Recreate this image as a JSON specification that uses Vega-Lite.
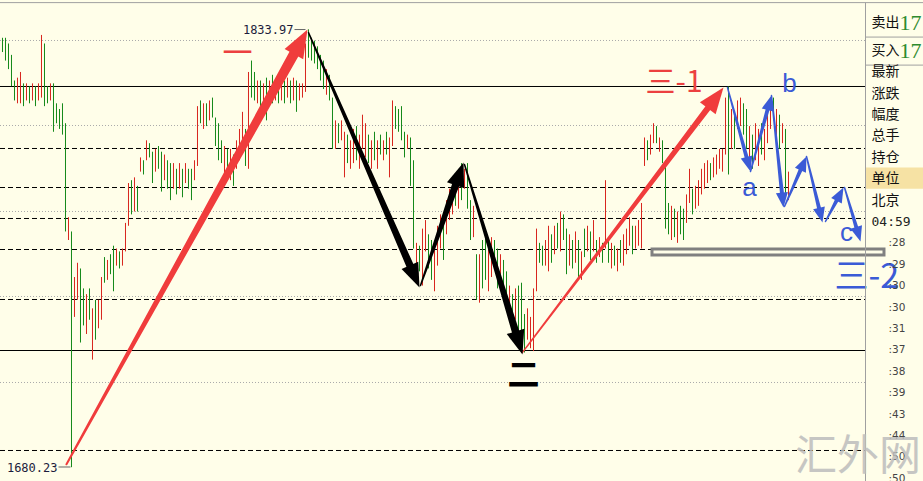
{
"$schema":"https://vega.github.io/schema/vega-lite/v6.json",
"width":923,"height":481,"autosize":"none","padding":0,
"background":"#FFFEE9",
"config":{"view":{"stroke":null}},
"datasets":{
"bars":[
{"i":0,"h":1831,"l":1826,"d":"d"},{"i":1,"h":1831,"l":1823,"d":"d"},{"i":2,"h":1829,"l":1820,"d":"d"},{"i":3,"h":1825,"l":1814,"d":"d"},{"i":4,"h":1816,"l":1809,"d":"d"},{"i":5,"h":1817,"l":1808,"d":"u"},{"i":6,"h":1819,"l":1808,"d":"u"},{"i":7,"h":1815,"l":1807,"d":"d"},{"i":8,"h":1815,"l":1809,"d":"u"},{"i":9,"h":1814,"l":1808,"d":"d"},
{"i":10,"h":1815,"l":1809,"d":"u"},{"i":11,"h":1814,"l":1807,"d":"d"},{"i":12,"h":1815,"l":1809,"d":"u"},{"i":13,"h":1832,"l":1810,"d":"u"},{"i":14,"h":1829,"l":1807,"d":"d"},{"i":15,"h":1814,"l":1808,"d":"d"},{"i":16,"h":1815,"l":1809,"d":"u"},{"i":17,"h":1815,"l":1798,"d":"d"},{"i":18,"h":1808,"l":1801,"d":"d"},{"i":19,"h":1806,"l":1799,"d":"d"},
{"i":20,"h":1808,"l":1797,"d":"d"},{"i":21,"h":1801,"l":1763,"d":"d"},{"i":22,"h":1768,"l":1760,"d":"u"},{"i":23,"h":1763,"l":1680.23,"d":"d"},{"i":24,"h":1747,"l":1733,"d":"u"},{"i":25,"h":1752,"l":1739,"d":"u"},{"i":26,"h":1750,"l":1724,"d":"d"},{"i":27,"h":1743,"l":1730,"d":"d"},{"i":28,"h":1741,"l":1727,"d":"u"},{"i":29,"h":1743,"l":1732,"d":"d"},
{"i":30,"h":1736,"l":1718,"d":"u"},{"i":31,"h":1739,"l":1725,"d":"d"},{"i":32,"h":1739,"l":1729,"d":"u"},{"i":33,"h":1747,"l":1732,"d":"u"},{"i":34,"h":1754,"l":1745,"d":"d"},{"i":35,"h":1753,"l":1746,"d":"u"},{"i":36,"h":1755,"l":1748,"d":"d"},{"i":37,"h":1758,"l":1742,"d":"d"},{"i":38,"h":1757,"l":1751,"d":"u"},{"i":39,"h":1756,"l":1750,"d":"d"},
{"i":40,"h":1757,"l":1751,"d":"u"},{"i":41,"h":1766,"l":1756,"d":"u"},{"i":42,"h":1780,"l":1765,"d":"u"},{"i":43,"h":1781,"l":1769,"d":"d"},{"i":44,"h":1782,"l":1770,"d":"u"},{"i":45,"h":1779,"l":1770,"d":"d"},{"i":46,"h":1789,"l":1784,"d":"u"},{"i":47,"h":1788,"l":1783,"d":"d"},{"i":48,"h":1795,"l":1788,"d":"u"},{"i":49,"h":1794,"l":1789,"d":"d"},
{"i":50,"h":1791,"l":1780,"d":"d"},{"i":51,"h":1792,"l":1784,"d":"u"},{"i":52,"h":1793,"l":1785,"d":"d"},{"i":53,"h":1791,"l":1777,"d":"d"},{"i":54,"h":1790,"l":1781,"d":"u"},{"i":55,"h":1788,"l":1778,"d":"d"},{"i":56,"h":1787,"l":1774,"d":"d"},{"i":57,"h":1787,"l":1778,"d":"u"},{"i":58,"h":1785,"l":1776,"d":"d"},{"i":59,"h":1787,"l":1778,"d":"u"},
{"i":60,"h":1785,"l":1775,"d":"d"},{"i":61,"h":1787,"l":1780,"d":"u"},{"i":62,"h":1785,"l":1778,"d":"d"},{"i":63,"h":1785,"l":1774,"d":"d"},{"i":64,"h":1788,"l":1781,"d":"u"},{"i":65,"h":1807,"l":1786,"d":"u"},{"i":66,"h":1809,"l":1801,"d":"d"},{"i":67,"h":1808,"l":1799,"d":"u"},{"i":68,"h":1808,"l":1800,"d":"d"},{"i":69,"h":1809,"l":1802,"d":"u"},
{"i":70,"h":1810,"l":1803,"d":"d"},{"i":71,"h":1803,"l":1793,"d":"d"},{"i":72,"h":1801,"l":1788,"d":"d"},{"i":73,"h":1795,"l":1787,"d":"d"},{"i":74,"h":1793,"l":1781,"d":"u"},{"i":75,"h":1792,"l":1783,"d":"d"},{"i":76,"h":1792,"l":1781,"d":"u"},{"i":77,"h":1790,"l":1779,"d":"d"},{"i":78,"h":1795,"l":1785,"d":"u"},{"i":79,"h":1799,"l":1788,"d":"u"},
{"i":80,"h":1805,"l":1793,"d":"u"},{"i":81,"h":1799,"l":1786,"d":"d"},{"i":82,"h":1819,"l":1785,"d":"u"},{"i":83,"h":1823,"l":1810,"d":"d"},{"i":84,"h":1819,"l":1809,"d":"d"},{"i":85,"h":1816,"l":1808,"d":"u"},{"i":86,"h":1816,"l":1806,"d":"d"},{"i":87,"h":1815,"l":1805,"d":"u"},{"i":88,"h":1817,"l":1802,"d":"d"},{"i":89,"h":1816,"l":1809,"d":"u"},
{"i":90,"h":1818,"l":1808,"d":"d"},{"i":91,"h":1816,"l":1809,"d":"u"},{"i":92,"h":1816,"l":1808,"d":"d"},{"i":93,"h":1817,"l":1809,"d":"u"},{"i":94,"h":1816,"l":1808,"d":"d"},{"i":95,"h":1817,"l":1810,"d":"u"},{"i":96,"h":1816,"l":1808,"d":"d"},{"i":97,"h":1817,"l":1809,"d":"u"},{"i":98,"h":1816,"l":1805,"d":"d"},{"i":99,"h":1815,"l":1809,"d":"u"},
{"i":100,"h":1815,"l":1810,"d":"u"},{"i":101,"h":1829,"l":1812,"d":"u"},{"i":102,"h":1833.97,"l":1824,"d":"d"},{"i":103,"h":1831,"l":1823,"d":"d"},{"i":104,"h":1830,"l":1822,"d":"d"},{"i":105,"h":1828,"l":1820,"d":"d"},{"i":106,"h":1825,"l":1816,"d":"d"},{"i":107,"h":1823,"l":1813,"d":"d"},{"i":108,"h":1820,"l":1811,"d":"u"},{"i":109,"h":1818,"l":1809,"d":"d"},
{"i":110,"h":1810,"l":1792,"d":"d"},{"i":111,"h":1802,"l":1792,"d":"u"},{"i":112,"h":1801,"l":1794,"d":"d"},{"i":113,"h":1802,"l":1795,"d":"u"},{"i":114,"h":1798,"l":1782,"d":"u"},{"i":115,"h":1797,"l":1787,"d":"d"},{"i":116,"h":1795,"l":1785,"d":"u"},{"i":117,"h":1799,"l":1787,"d":"u"},{"i":118,"h":1800,"l":1788,"d":"d"},{"i":119,"h":1797,"l":1785,"d":"u"},
{"i":120,"h":1804,"l":1792,"d":"u"},{"i":121,"h":1801,"l":1789,"d":"u"},{"i":122,"h":1797,"l":1787,"d":"d"},{"i":123,"h":1795,"l":1785,"d":"u"},{"i":124,"h":1798,"l":1788,"d":"d"},{"i":125,"h":1795,"l":1785,"d":"u"},{"i":126,"h":1797,"l":1790,"d":"d"},{"i":127,"h":1795,"l":1788,"d":"u"},{"i":128,"h":1798,"l":1790,"d":"d"},{"i":129,"h":1796,"l":1782,"d":"u"},
{"i":130,"h":1809,"l":1793,"d":"u"},{"i":131,"h":1807,"l":1799,"d":"d"},{"i":132,"h":1806,"l":1798,"d":"d"},{"i":133,"h":1807,"l":1795,"d":"d"},{"i":134,"h":1798,"l":1789,"d":"d"},{"i":135,"h":1797,"l":1792,"d":"u"},{"i":136,"h":1796,"l":1779,"d":"d"},{"i":137,"h":1788,"l":1757,"d":"d"},{"i":138,"h":1759,"l":1747,"d":"u"},{"i":139,"h":1758,"l":1749,"d":"d"},
{"i":140,"h":1764,"l":1744,"d":"u"},{"i":141,"h":1767,"l":1756,"d":"u"},{"i":142,"h":1762,"l":1750,"d":"d"},{"i":143,"h":1760,"l":1746,"d":"d"},{"i":144,"h":1757,"l":1742,"d":"u"},{"i":145,"h":1765,"l":1751,"d":"u"},{"i":146,"h":1769,"l":1757,"d":"u"},{"i":147,"h":1767,"l":1753,"d":"d"},{"i":148,"h":1774,"l":1762,"d":"u"},{"i":149,"h":1778,"l":1767,"d":"u"},
{"i":150,"h":1781,"l":1769,"d":"u"},{"i":151,"h":1779,"l":1772,"d":"d"},{"i":152,"h":1783,"l":1771,"d":"u"},{"i":153,"h":1787,"l":1774,"d":"d"},{"i":154,"h":1785,"l":1778,"d":"u"},{"i":155,"h":1787,"l":1771,"d":"d"},{"i":156,"h":1774,"l":1760,"d":"d"},{"i":157,"h":1772,"l":1761,"d":"u"},{"i":158,"h":1755,"l":1739,"d":"d"},{"i":159,"h":1755,"l":1738,"d":"u"},
{"i":160,"h":1760,"l":1743,"d":"d"},{"i":161,"h":1764,"l":1746,"d":"d"},{"i":162,"h":1758,"l":1742,"d":"u"},{"i":163,"h":1761,"l":1747,"d":"u"},{"i":164,"h":1760,"l":1751,"d":"d"},{"i":165,"h":1757,"l":1743,"d":"d"},{"i":166,"h":1755,"l":1744,"d":"u"},{"i":167,"h":1753,"l":1743,"d":"d"},{"i":168,"h":1749,"l":1739,"d":"d"},{"i":169,"h":1744,"l":1732,"d":"u"},
{"i":170,"h":1741,"l":1730,"d":"d"},{"i":171,"h":1743,"l":1732,"d":"u"},{"i":172,"h":1744,"l":1728,"d":"d"},{"i":173,"h":1745,"l":1723,"d":"d"},{"i":174,"h":1734,"l":1720.5,"d":"d"},{"i":175,"h":1736,"l":1725,"d":"u"},{"i":176,"h":1733,"l":1722,"d":"u"},{"i":177,"h":1743,"l":1721,"d":"u"},{"i":178,"h":1764,"l":1742,"d":"u"},{"i":179,"h":1759,"l":1752,"d":"d"},
{"i":180,"h":1758,"l":1751,"d":"d"},{"i":181,"h":1760,"l":1751,"d":"u"},{"i":182,"h":1765,"l":1749,"d":"u"},{"i":183,"h":1762,"l":1752,"d":"d"},{"i":184,"h":1765,"l":1755,"d":"u"},{"i":185,"h":1766,"l":1757,"d":"d"},{"i":186,"h":1770,"l":1756,"d":"u"},{"i":187,"h":1769,"l":1760,"d":"d"},{"i":188,"h":1764,"l":1748,"d":"d"},{"i":189,"h":1762,"l":1751,"d":"u"},
{"i":190,"h":1760,"l":1750,"d":"d"},{"i":191,"h":1763,"l":1752,"d":"u"},{"i":192,"h":1760,"l":1747,"d":"d"},{"i":193,"h":1756,"l":1746,"d":"u"},{"i":194,"h":1764,"l":1754,"d":"d"},{"i":195,"h":1765,"l":1756,"d":"u"},{"i":196,"h":1763,"l":1753,"d":"d"},{"i":197,"h":1767,"l":1756,"d":"u"},{"i":198,"h":1760,"l":1752,"d":"d"},{"i":199,"h":1761,"l":1754,"d":"u"},
{"i":200,"h":1759,"l":1752,"d":"d"},{"i":201,"h":1781,"l":1757,"d":"u"},{"i":202,"h":1760,"l":1752,"d":"d"},{"i":203,"h":1759,"l":1750,"d":"u"},{"i":204,"h":1758,"l":1751,"d":"d"},{"i":205,"h":1757,"l":1749,"d":"u"},{"i":206,"h":1760,"l":1752,"d":"d"},{"i":207,"h":1762,"l":1751,"d":"u"},{"i":208,"h":1764,"l":1755,"d":"u"},{"i":209,"h":1768,"l":1758,"d":"u"},
{"i":210,"h":1765,"l":1755,"d":"d"},{"i":211,"h":1765,"l":1757,"d":"u"},{"i":212,"h":1767,"l":1758,"d":"u"},{"i":213,"h":1773,"l":1757,"d":"u"},{"i":214,"h":1796,"l":1786,"d":"u"},{"i":215,"h":1795,"l":1788,"d":"d"},{"i":216,"h":1797,"l":1790,"d":"u"},{"i":217,"h":1801,"l":1794,"d":"u"},{"i":218,"h":1800,"l":1794,"d":"d"},{"i":219,"h":1796,"l":1791,"d":"u"},
{"i":220,"h":1795,"l":1787,"d":"d"},{"i":221,"h":1788,"l":1764,"d":"d"},{"i":222,"h":1773,"l":1762,"d":"d"},{"i":223,"h":1772,"l":1760,"d":"u"},{"i":224,"h":1771,"l":1761,"d":"d"},{"i":225,"h":1770,"l":1759,"d":"u"},{"i":226,"h":1772,"l":1762,"d":"d"},{"i":227,"h":1771,"l":1760,"d":"d"},{"i":228,"h":1776,"l":1766,"d":"u"},{"i":229,"h":1785,"l":1773,"d":"u"},
{"i":230,"h":1778,"l":1769,"d":"d"},{"i":231,"h":1779,"l":1771,"d":"u"},{"i":232,"h":1781,"l":1772,"d":"u"},{"i":233,"h":1785,"l":1776,"d":"u"},{"i":234,"h":1787,"l":1778,"d":"u"},{"i":235,"h":1788,"l":1780,"d":"u"},{"i":236,"h":1787,"l":1781,"d":"d"},{"i":237,"h":1789,"l":1782,"d":"u"},{"i":238,"h":1790,"l":1783,"d":"u"},{"i":239,"h":1792,"l":1785,"d":"u"},
{"i":240,"h":1792,"l":1784,"d":"u"},{"i":241,"h":1810,"l":1790,"d":"u"},{"i":242,"h":1813.9,"l":1783,"d":"d"},{"i":243,"h":1806,"l":1792,"d":"u"},{"i":244,"h":1804,"l":1792,"d":"d"},{"i":245,"h":1809,"l":1799,"d":"u"},{"i":246,"h":1810,"l":1800,"d":"u"},{"i":247,"h":1808,"l":1797,"d":"d"},{"i":248,"h":1806,"l":1792,"d":"d"},{"i":249,"h":1800,"l":1785,"d":"u"},
{"i":250,"h":1797,"l":1785,"d":"d"},{"i":251,"h":1801,"l":1788,"d":"u"},{"i":252,"h":1799,"l":1786,"d":"u"},{"i":253,"h":1801,"l":1790,"d":"d"},{"i":254,"h":1799,"l":1788,"d":"u"},{"i":255,"h":1806,"l":1794,"d":"u"},{"i":256,"h":1810,"l":1799,"d":"u"},{"i":257,"h":1810,"l":1802,"d":"d"},{"i":258,"h":1806,"l":1795,"d":"u"},{"i":259,"h":1804,"l":1792,"d":"d"},
{"i":260,"h":1801,"l":1794,"d":"u"},{"i":261,"h":1799,"l":1775,"d":"d"},{"i":262,"h":1784,"l":1774,"d":"u"}
],
"levels":[
{"p":1813.9,"s":"solid"},{"p":1721.2,"s":"solid"},
{"p":1792.13,"s":"dash"},{"p":1778.43,"s":"dash"},{"p":1767.55,"s":"dash"},{"p":1756.66,"s":"dash"},{"p":1739.11,"s":"dash"},{"p":1686.09,"s":"dash"},
{"p":1830.05,"s":"dot"},{"p":1800.2,"s":"dot"},{"p":1770.01,"s":"dot"},{"p":1740.16,"s":"dot"},{"p":1709.97,"s":"dot"}
],
"arrows":[
{"a":"R1","kind":"redbig","seq":0,"i":21.33,"p":1681.24},{"a":"R1","kind":"redbig","seq":1,"i":97.47,"p":1825.91},{"a":"R1","kind":"redbig","seq":2,"i":101.67,"p":1833.87},
{"a":"K1","kind":"black","seq":0,"i":102,"p":1832.82},{"a":"K1","kind":"black","seq":1,"i":136.07,"p":1750.43},{"a":"K1","kind":"black","seq":2,"i":139,"p":1743.35},
{"a":"K2","kind":"black","seq":0,"i":139.33,"p":1744.05},{"a":"K2","kind":"black","seq":1,"i":151.24,"p":1779.91},{"a":"K2","kind":"black","seq":2,"i":153.67,"p":1787.21},
{"a":"K3","kind":"black","seq":0,"i":154,"p":1786.51},{"a":"K3","kind":"black","seq":1,"i":171.2,"p":1727.21},{"a":"K3","kind":"black","seq":2,"i":173.33,"p":1719.84},
{"a":"R2","kind":"redthin","seq":0,"i":173.33,"p":1720.54},{"a":"R2","kind":"redthin","seq":1,"i":235.5,"p":1806.82},{"a":"R2","kind":"redthin","seq":2,"i":240.33,"p":1813.52},
{"a":"B1","kind":"blue","seq":0,"i":241.67,"p":1813.52},{"a":"B1","kind":"blue","seq":1,"i":248.19,"p":1788.45},{"a":"B1","kind":"blue","seq":2,"i":249.33,"p":1784.05},
{"a":"B2","kind":"blue","seq":0,"i":249.33,"p":1784.05},{"a":"B2","kind":"blue","seq":1,"i":255.18,"p":1806.32},{"a":"B2","kind":"blue","seq":2,"i":256.33,"p":1810.72},
{"a":"B3","kind":"blue","seq":0,"i":256.33,"p":1810.72},{"a":"B3","kind":"blue","seq":1,"i":259.87,"p":1775.95},{"a":"B3","kind":"blue","seq":2,"i":260.33,"p":1771.42},
{"a":"B4","kind":"blue","seq":0,"i":260.67,"p":1771.77},{"a":"B4","kind":"blue","seq":1,"i":266.25,"p":1785.14},{"a":"B4","kind":"blue","seq":2,"i":268,"p":1789.31},
{"a":"B5","kind":"blue","seq":0,"i":268,"p":1789.31},{"a":"B5","kind":"blue","seq":1,"i":272.31,"p":1770.59},{"a":"B5","kind":"blue","seq":2,"i":273.33,"p":1766.15},
{"a":"B6","kind":"blue","seq":0,"i":274.33,"p":1766.5},{"a":"B6","kind":"blue","seq":1,"i":278.31,"p":1774.41},{"a":"B6","kind":"blue","seq":2,"i":280.33,"p":1778.43},
{"a":"B7","kind":"blue","seq":0,"i":280.67,"p":1778.43},{"a":"B7","kind":"blue","seq":1,"i":284.77,"p":1763.86},{"a":"B7","kind":"blue","seq":2,"i":286,"p":1759.49}
],
"notes":[
{"t":"1833.97","c":"px","i":97,"p":1833.9},
{"t":"1680.23","c":"px","i":18.33,"p":1680.1},
{"t":"一","c":"red","i":73.33,"p":1825.45},
{"t":"三-1","c":"red","i":214.33,"p":1815.28},
{"t":"二","c":"black","i":173.67,"p":1712.12},
{"t":"三-2","c":"blue","i":277.33,"p":1746.5},
{"t":"a","c":"letter","i":249,"p":1775.28},
{"t":"b","c":"letter","i":262.33,"p":1812.12},
{"t":"c","c":"letter","i":281.33,"p":1759.49}
],
"ptr":[{"i":97.33,"i2":101,"p":1833.9},{"i":18.67,"i2":22.67,"p":1680.3}],
"zone":[{"i":216.5,"i2":293.83,"p":1756.86,"p2":1754.75}],
"panel":[
{"t":"卖出","k":0.7,"c":"lab"},{"t":"买入","k":2.0,"c":"lab"},
{"t":"17","k":0.7,"c":"num"},{"t":"17","k":2.0,"c":"num"},
{"t":"最新","k":3,"c":"lab"},{"t":"涨跌","k":4,"c":"lab"},{"t":"幅度","k":5,"c":"lab"},{"t":"总手","k":6,"c":"lab"},{"t":"持仓","k":7,"c":"lab"},{"t":"单位","k":8,"c":"lab"},{"t":"北京","k":9,"c":"lab"},
{"t":"04:59","k":10,"c":"time"},
{"t":":28","k":11,"c":"tick"},{"t":":29","k":12,"c":"tick"},{"t":":30","k":13,"c":"tick"},{"t":":30","k":14,"c":"tick"},{"t":":31","k":15,"c":"tick"},{"t":":37","k":16,"c":"tick"},{"t":":38","k":17,"c":"tick"},{"t":":39","k":18,"c":"tick"},{"t":":43","k":19,"c":"tick"},{"t":":44","k":20,"c":"tick"},{"t":":50","k":21,"c":"tick"},{"t":":50","k":22,"c":"tick"}
],
"seps":[{"k":1.36},{"k":2.67}]
},
"layer":[
{
"layer":[
{"data":{"name":"levels"},"transform":[{"filter":"datum.s==='dot'"}],"mark":{"type":"rule","color":"#ababab","strokeWidth":1,"strokeDash":[1,2]},
 "encoding":{"y":{"field":"p","type":"quantitative","scale":{"domain":[1675.38,1844.27],"nice":false,"zero":false},"axis":null},
 "x":{"datum":-0.8333,"type":"quantitative","scale":{"domain":[-0.8333,306.8333],"nice":false,"zero":false},"axis":null},"x2":{"datum":287.67}}},
{"data":{"name":"levels"},"transform":[{"filter":"datum.s==='dash'"}],"mark":{"type":"rule","color":"#000000","strokeWidth":1,"strokeDash":[5,3]},
 "encoding":{"y":{"field":"p","type":"quantitative","scale":{"domain":[1675.38,1844.27],"nice":false,"zero":false},"axis":null},
 "x":{"datum":-0.8333,"type":"quantitative","scale":{"domain":[-0.8333,306.8333],"nice":false,"zero":false},"axis":null},"x2":{"datum":287.67}}},
{"data":{"name":"levels"},"transform":[{"filter":"datum.s==='solid'"}],"mark":{"type":"rule","color":"#000000","strokeWidth":1},
 "encoding":{"y":{"field":"p","type":"quantitative","scale":{"domain":[1675.38,1844.27],"nice":false,"zero":false},"axis":null},
 "x":{"datum":-0.8333,"type":"quantitative","scale":{"domain":[-0.8333,306.8333],"nice":false,"zero":false},"axis":null},"x2":{"datum":287.67}}},
{"data":{"name":"bars"},"mark":{"type":"rule","strokeWidth":1},
 "encoding":{"x":{"field":"i","type":"quantitative","scale":{"domain":[-0.8333,306.8333],"nice":false,"zero":false},"axis":null},
 "y":{"field":"l","type":"quantitative","scale":{"domain":[1675.38,1844.27],"nice":false,"zero":false},"axis":null},"y2":{"field":"h"},
 "color":{"field":"d","type":"nominal","scale":{"domain":["u","d"],"range":["#D8261E","#15891A"]},"legend":null}}},
{"data":{"name":"zone"},"mark":{"type":"rect","filled":false,"stroke":"#808080","strokeWidth":3},
 "encoding":{"x":{"field":"i","type":"quantitative","scale":{"domain":[-0.8333,306.8333],"nice":false,"zero":false},"axis":null},"x2":{"field":"i2"},
 "y":{"field":"p","type":"quantitative","scale":{"domain":[1675.38,1844.27],"nice":false,"zero":false},"axis":null},"y2":{"field":"p2"}}},
{"data":{"name":"arrows"},"transform":[{"filter":"datum.kind==='redbig' && datum.seq<=1"}],"mark":{"type":"trail","color":"#F03C3C"},
 "encoding":{"x":{"field":"i","type":"quantitative","scale":{"domain":[-0.8333,306.8333],"nice":false,"zero":false},"axis":null},
 "y":{"field":"p","type":"quantitative","scale":{"domain":[1675.38,1844.27],"nice":false,"zero":false},"axis":null},
 "order":{"field":"seq"},"detail":{"field":"a"},
 "size":{"field":"seq","type":"quantitative","scale":{"type":"threshold","domain":[0.5],"range":[2,10]},"legend":null}}},
{"data":{"name":"arrows"},"transform":[{"filter":"datum.kind==='redthin' && datum.seq<=1"}],"mark":{"type":"trail","color":"#F03C3C"},
 "encoding":{"x":{"field":"i","type":"quantitative","scale":{"domain":[-0.8333,306.8333],"nice":false,"zero":false},"axis":null},
 "y":{"field":"p","type":"quantitative","scale":{"domain":[1675.38,1844.27],"nice":false,"zero":false},"axis":null},
 "order":{"field":"seq"},"detail":{"field":"a"},
 "size":{"field":"seq","type":"quantitative","scale":{"type":"threshold","domain":[0.5],"range":[1.5,6]},"legend":null}}},
{"data":{"name":"arrows"},"transform":[{"filter":"datum.kind==='black' && datum.seq<=1"}],"mark":{"type":"trail","color":"#000000"},
 "encoding":{"x":{"field":"i","type":"quantitative","scale":{"domain":[-0.8333,306.8333],"nice":false,"zero":false},"axis":null},
 "y":{"field":"p","type":"quantitative","scale":{"domain":[1675.38,1844.27],"nice":false,"zero":false},"axis":null},
 "order":{"field":"seq"},"detail":{"field":"a"},
 "size":{"field":"seq","type":"quantitative","scale":{"type":"threshold","domain":[0.5],"range":[1.5,7.5]},"legend":null}}},
{"data":{"name":"arrows"},"transform":[{"filter":"datum.kind==='blue' && datum.seq<=1"}],"mark":{"type":"trail","color":"#3B5BD6"},
 "encoding":{"x":{"field":"i","type":"quantitative","scale":{"domain":[-0.8333,306.8333],"nice":false,"zero":false},"axis":null},
 "y":{"field":"p","type":"quantitative","scale":{"domain":[1675.38,1844.27],"nice":false,"zero":false},"axis":null},
 "order":{"field":"seq"},"detail":{"field":"a"},
 "size":{"field":"seq","type":"quantitative","scale":{"type":"threshold","domain":[0.5],"range":[1.5,4]},"legend":null}}},
{"data":{"name":"arrows"},"transform":[{"filter":"datum.kind==='redbig'"},{"window":[{"op":"lag","field":"i","as":"pi"},{"op":"lag","field":"p","as":"pp"}],"groupby":["a"],"sort":[{"field":"seq","order":"ascending"}]},{"filter":"datum.seq===2"},{"calculate":"atan2(3*(datum.i-datum.pi),2.848*(datum.p-datum.pp))*180/PI","as":"ang"}],
 "mark":{"type":"point","shape":"M0,0L-0.38,1L0.38,1Z","filled":true,"opacity":1,"size":3136,"color":"#F03C3C","strokeWidth":0},
 "encoding":{"x":{"field":"i","type":"quantitative","scale":{"domain":[-0.8333,306.8333],"nice":false,"zero":false},"axis":null},
 "y":{"field":"p","type":"quantitative","scale":{"domain":[1675.38,1844.27],"nice":false,"zero":false},"axis":null},
 "angle":{"field":"ang","type":"quantitative","scale":null}}},
{"data":{"name":"arrows"},"transform":[{"filter":"datum.kind==='redthin'"},{"window":[{"op":"lag","field":"i","as":"pi"},{"op":"lag","field":"p","as":"pp"}],"groupby":["a"],"sort":[{"field":"seq","order":"ascending"}]},{"filter":"datum.seq===2"},{"calculate":"atan2(3*(datum.i-datum.pi),2.848*(datum.p-datum.pp))*180/PI","as":"ang"}],
 "mark":{"type":"point","shape":"M0,0L-0.38,1L0.38,1Z","filled":true,"opacity":1,"size":2704,"color":"#F03C3C","strokeWidth":0},
 "encoding":{"x":{"field":"i","type":"quantitative","scale":{"domain":[-0.8333,306.8333],"nice":false,"zero":false},"axis":null},
 "y":{"field":"p","type":"quantitative","scale":{"domain":[1675.38,1844.27],"nice":false,"zero":false},"axis":null},
 "angle":{"field":"ang","type":"quantitative","scale":null}}},
{"data":{"name":"arrows"},"transform":[{"filter":"datum.kind==='black'"},{"window":[{"op":"lag","field":"i","as":"pi"},{"op":"lag","field":"p","as":"pp"}],"groupby":["a"],"sort":[{"field":"seq","order":"ascending"}]},{"filter":"datum.seq===2"},{"calculate":"atan2(3*(datum.i-datum.pi),2.848*(datum.p-datum.pp))*180/PI","as":"ang"}],
 "mark":{"type":"point","shape":"M0,0L-0.38,1L0.38,1Z","filled":true,"opacity":1,"size":2304,"color":"#000000","strokeWidth":0},
 "encoding":{"x":{"field":"i","type":"quantitative","scale":{"domain":[-0.8333,306.8333],"nice":false,"zero":false},"axis":null},
 "y":{"field":"p","type":"quantitative","scale":{"domain":[1675.38,1844.27],"nice":false,"zero":false},"axis":null},
 "angle":{"field":"ang","type":"quantitative","scale":null}}},
{"data":{"name":"arrows"},"transform":[{"filter":"datum.kind==='blue'"},{"window":[{"op":"lag","field":"i","as":"pi"},{"op":"lag","field":"p","as":"pp"}],"groupby":["a"],"sort":[{"field":"seq","order":"ascending"}]},{"filter":"datum.seq===2"},{"calculate":"atan2(3*(datum.i-datum.pi),2.848*(datum.p-datum.pp))*180/PI","as":"ang"}],
 "mark":{"type":"point","shape":"M0,0L-0.4,1L0.4,1Z","filled":true,"opacity":1,"size":900,"color":"#3B5BD6","strokeWidth":0},
 "encoding":{"x":{"field":"i","type":"quantitative","scale":{"domain":[-0.8333,306.8333],"nice":false,"zero":false},"axis":null},
 "y":{"field":"p","type":"quantitative","scale":{"domain":[1675.38,1844.27],"nice":false,"zero":false},"axis":null},
 "angle":{"field":"ang","type":"quantitative","scale":null}}},
{"data":{"name":"ptr"},"mark":{"type":"rule","color":"#666666","strokeWidth":1},
 "encoding":{"x":{"field":"i","type":"quantitative","scale":{"domain":[-0.8333,306.8333],"nice":false,"zero":false},"axis":null},"x2":{"field":"i2"},
 "y":{"field":"p","type":"quantitative","scale":{"domain":[1675.38,1844.27],"nice":false,"zero":false},"axis":null}}},
{"data":{"name":"notes"},"transform":[{"filter":"datum.c==='px'"}],"mark":{"type":"text","align":"right","baseline":"middle","font":"DejaVu Sans Mono","fontSize":12,"color":"#1c1c3c"},
 "encoding":{"x":{"field":"i","type":"quantitative","scale":{"domain":[-0.8333,306.8333],"nice":false,"zero":false},"axis":null},
 "y":{"field":"p","type":"quantitative","scale":{"domain":[1675.38,1844.27],"nice":false,"zero":false},"axis":null},"text":{"field":"t"}}},
{"data":{"name":"notes"},"transform":[{"filter":"datum.c==='red'"}],"mark":{"type":"text","align":"left","baseline":"middle","font":"Noto Sans CJK SC","fontSize":30,"color":"#EC4040"},
 "encoding":{"x":{"field":"i","type":"quantitative","scale":{"domain":[-0.8333,306.8333],"nice":false,"zero":false},"axis":null},
 "y":{"field":"p","type":"quantitative","scale":{"domain":[1675.38,1844.27],"nice":false,"zero":false},"axis":null},"text":{"field":"t"}}},
{"data":{"name":"notes"},"transform":[{"filter":"datum.c==='black'"}],"mark":{"type":"text","align":"center","baseline":"middle","font":"Noto Sans CJK SC","fontSize":32,"fontWeight":"bold","color":"#000000"},
 "encoding":{"x":{"field":"i","type":"quantitative","scale":{"domain":[-0.8333,306.8333],"nice":false,"zero":false},"axis":null},
 "y":{"field":"p","type":"quantitative","scale":{"domain":[1675.38,1844.27],"nice":false,"zero":false},"axis":null},"text":{"field":"t"}}},
{"data":{"name":"notes"},"transform":[{"filter":"datum.c==='blue'"}],"mark":{"type":"text","align":"left","baseline":"middle","font":"Noto Sans CJK SC","fontSize":34,"color":"#3B5BD6"},
 "encoding":{"x":{"field":"i","type":"quantitative","scale":{"domain":[-0.8333,306.8333],"nice":false,"zero":false},"axis":null},
 "y":{"field":"p","type":"quantitative","scale":{"domain":[1675.38,1844.27],"nice":false,"zero":false},"axis":null},"text":{"field":"t"}}},
{"data":{"name":"notes"},"transform":[{"filter":"datum.c==='letter'"}],"mark":{"type":"text","align":"center","baseline":"alphabetic","font":"Liberation Sans","fontSize":26,"color":"#3B5BD6"},
 "encoding":{"x":{"field":"i","type":"quantitative","scale":{"domain":[-0.8333,306.8333],"nice":false,"zero":false},"axis":null},
 "y":{"field":"p","type":"quantitative","scale":{"domain":[1675.38,1844.27],"nice":false,"zero":false},"axis":null},"text":{"field":"t"}}}
],
"resolve":{"scale":{"size":"independent"}}
},
{
"layer":[
{"data":{"values":[{}]},"mark":{"type":"rect","color":"#F6E2A4"},
 "encoding":{"x":{"datum":287.85,"type":"quantitative","scale":{"domain":[-0.8333,306.8333],"nice":false,"zero":false},"axis":null},"x2":{"datum":306.8333},
 "y":{"datum":7.45,"type":"quantitative","scale":{"domain":[-0.372,22.105],"reverse":true,"nice":false,"zero":false},"axis":null},"y2":{"datum":8.45}}},
{"data":{"values":[{}]},"mark":{"type":"rule","color":"#a0a0a0","strokeWidth":1},
 "encoding":{"x":{"datum":-0.8333,"type":"quantitative","scale":{"domain":[-0.8333,306.8333],"nice":false,"zero":false},"axis":null},"x2":{"datum":306.8333},
 "y":{"datum":-0.25,"type":"quantitative","scale":{"domain":[-0.372,22.105],"reverse":true,"nice":false,"zero":false},"axis":null}}},
{"data":{"values":[{}]},"mark":{"type":"rule","color":"#a0a0a0","strokeWidth":1},
 "encoding":{"x":{"datum":287.67,"type":"quantitative","scale":{"domain":[-0.8333,306.8333],"nice":false,"zero":false},"axis":null},
 "y":{"datum":-0.25,"type":"quantitative","scale":{"domain":[-0.372,22.105],"reverse":true,"nice":false,"zero":false},"axis":null},"y2":{"datum":22.105}}},
{"data":{"name":"seps"},"mark":{"type":"rule","color":"#a0a0a0","strokeWidth":1},
 "encoding":{"x":{"datum":287.67,"type":"quantitative","scale":{"domain":[-0.8333,306.8333],"nice":false,"zero":false},"axis":null},"x2":{"datum":306.8333},
 "y":{"field":"k","type":"quantitative","scale":{"domain":[-0.372,22.105],"reverse":true,"nice":false,"zero":false},"axis":null}}},
{"data":{"name":"panel"},"transform":[{"filter":"datum.c==='lab'"}],"mark":{"type":"text","align":"left","baseline":"middle","font":"Noto Sans CJK SC","fontSize":14,"color":"#111111"},
 "encoding":{"x":{"datum":289.67,"type":"quantitative","scale":{"domain":[-0.8333,306.8333],"nice":false,"zero":false},"axis":null},
 "y":{"field":"k","type":"quantitative","scale":{"domain":[-0.372,22.105],"reverse":true,"nice":false,"zero":false},"axis":null},"text":{"field":"t"}}},
{"data":{"name":"panel"},"transform":[{"filter":"datum.c==='num'"}],"mark":{"type":"text","align":"left","baseline":"middle","font":"Liberation Serif","fontSize":22,"color":"#2E8B2E"},
 "encoding":{"x":{"datum":299.0,"type":"quantitative","scale":{"domain":[-0.8333,306.8333],"nice":false,"zero":false},"axis":null},
 "y":{"field":"k","type":"quantitative","scale":{"domain":[-0.372,22.105],"reverse":true,"nice":false,"zero":false},"axis":null},"text":{"field":"t"}}},
{"data":{"name":"panel"},"transform":[{"filter":"datum.c==='time'"}],"mark":{"type":"text","align":"left","baseline":"middle","font":"DejaVu Sans Mono","fontSize":13,"color":"#222222"},
 "encoding":{"x":{"datum":289.67,"type":"quantitative","scale":{"domain":[-0.8333,306.8333],"nice":false,"zero":false},"axis":null},
 "y":{"field":"k","type":"quantitative","scale":{"domain":[-0.372,22.105],"reverse":true,"nice":false,"zero":false},"axis":null},"text":{"field":"t"}}},
{"data":{"name":"panel"},"transform":[{"filter":"datum.c==='tick'"}],"mark":{"type":"text","align":"left","baseline":"middle","font":"DejaVu Sans","fontSize":10.5,"color":"#444444"},
 "encoding":{"x":{"datum":295.33,"type":"quantitative","scale":{"domain":[-0.8333,306.8333],"nice":false,"zero":false},"axis":null},
 "y":{"field":"k","type":"quantitative","scale":{"domain":[-0.372,22.105],"reverse":true,"nice":false,"zero":false},"axis":null},"text":{"field":"t"}}},
{"data":{"values":[{"t":"汇外网"}]},"mark":{"type":"text","align":"center","baseline":"middle","font":"Noto Sans CJK SC","fontSize":42,"color":"#BDBDBD","opacity":0.85},
 "encoding":{"x":{"datum":285.17,"type":"quantitative","scale":{"domain":[-0.8333,306.8333],"nice":false,"zero":false},"axis":null},
 "y":{"datum":20.98,"type":"quantitative","scale":{"domain":[-0.372,22.105],"reverse":true,"nice":false,"zero":false},"axis":null},"text":{"field":"t"}}}
]
}
],
"resolve":{"scale":{"y":"independent"}}
}
